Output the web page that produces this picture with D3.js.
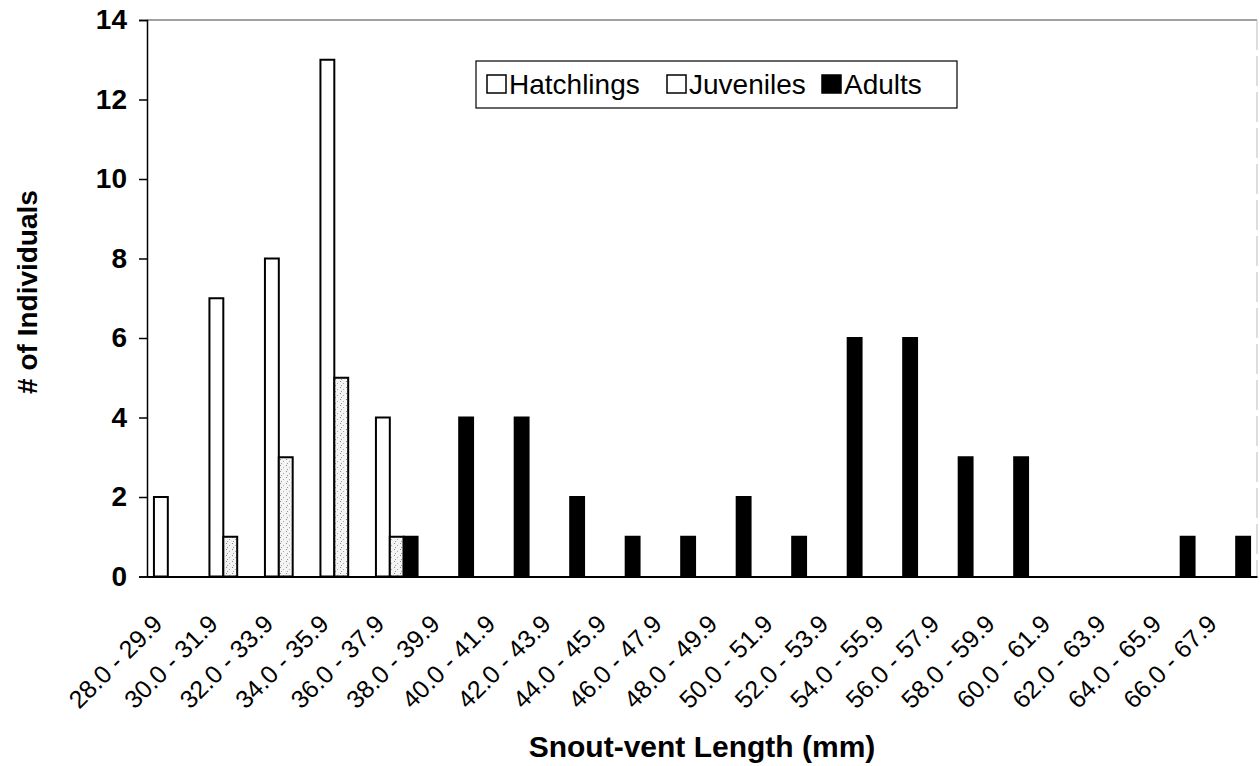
<!DOCTYPE html>
<html>
<head>
<meta charset="utf-8">
<script src="https://cdn.jsdelivr.net/npm/d3@7"></script>
<style>
  html, body { margin: 0; padding: 0; background: #fff; }
  svg { display: block; font-family: Arial, "Liberation Sans", Helvetica, sans-serif; }
</style>
</head>
<body>
<svg id="chart" width="1260" height="766"></svg>
<script>
// Snout-vent length classes (mm)
const categories = [
  "28.0 - 29.9", "30.0 - 31.9", "32.0 - 33.9", "34.0 - 35.9", "36.0 - 37.9",
  "38.0 - 39.9", "40.0 - 41.9", "42.0 - 43.9", "44.0 - 45.9", "46.0 - 47.9",
  "48.0 - 49.9", "50.0 - 51.9", "52.0 - 53.9", "54.0 - 55.9", "56.0 - 57.9",
  "58.0 - 59.9", "60.0 - 61.9", "62.0 - 63.9", "64.0 - 65.9", "66.0 - 67.9"
];
const seriesNames = ["Hatchlings", "Juveniles", "Adults"];
const hatchlings = [2, 7, 8, 13, 4, 0, 0, 0, 0, 0, 0, 0, 0, 0, 0, 0, 0, 0, 0, 0];
const juveniles  = [0, 1, 3, 5, 1, 0, 0, 0, 0, 0, 0, 0, 0, 0, 0, 0, 0, 0, 0, 0];
const adults     = [0, 0, 0, 0, 1, 4, 4, 2, 1, 1, 2, 1, 6, 6, 3, 3, 0, 0, 1, 1];
const yTicks = [0, 2, 4, 6, 8, 10, 12, 14];

const seriesValues = [hatchlings, juveniles, adults];

const svg = d3.select("#chart");
const margin = { left: 147, right: 3, top: 20, bottom: 189.5 };
const W = 1260, H = 766;
const plotW = W - margin.left - margin.right;
const plotH = H - margin.top - margin.bottom;

// Stippled light fill for the juvenile bars
const defs = svg.append("defs");
const pat = defs.append("pattern")
  .attr("id", "stipple").attr("patternUnits", "userSpaceOnUse")
  .attr("width", 6).attr("height", 6);
pat.append("rect").attr("width", 6).attr("height", 6).attr("fill", "#f4f4f4");
pat.append("rect").attr("x", 1).attr("y", 1).attr("width", 1).attr("height", 1).attr("fill", "#888");
pat.append("rect").attr("x", 4).attr("y", 3).attr("width", 1).attr("height", 1).attr("fill", "#aaa");
pat.append("rect").attr("x", 2).attr("y", 5).attr("width", 1).attr("height", 1).attr("fill", "#999");

const fills = ["#ffffff", "url(#stipple)", "#000000"];

const g = svg.append("g").attr("transform", `translate(${margin.left},${margin.top})`);

const x = d3.scaleBand().domain(categories).range([0, plotW]).paddingInner(0).paddingOuter(0);
const xSub = d3.scaleBand().domain(seriesNames)
  .range([x.bandwidth() * 0.125, x.bandwidth() * 0.875]).padding(0);
const y = d3.scaleLinear().domain([0, 14]).range([plotH, 0]);

// plot-area border (top and faint right side)
g.append("line").attr("x1", 0).attr("x2", plotW).attr("y1", 0).attr("y2", 0)
  .attr("stroke", "#444").attr("stroke-width", 1.2);
g.append("line").attr("x1", plotW).attr("x2", plotW).attr("y1", 0).attr("y2", plotH)
  .attr("stroke", "#bbb").attr("stroke-width", 1).attr("stroke-dasharray", "30,6");

// bars
seriesNames.forEach((name, si) => {
  g.append("g").selectAll("rect")
    .data(categories.map((c, i) => ({ c, v: seriesValues[si][i] })).filter(d => d.v > 0))
    .join("rect")
    .attr("x", d => x(d.c) + xSub(name))
    .attr("y", d => y(d.v))
    .attr("width", xSub.bandwidth())
    .attr("height", d => y(0) - y(d.v))
    .attr("fill", fills[si])
    .attr("stroke", "#000")
    .attr("stroke-width", 2);
});

// y axis
const yAxis = g.append("g")
  .call(d3.axisLeft(y).tickValues(yTicks).tickSize(8).tickPadding(12).tickFormat(d3.format("d")));
yAxis.select(".domain").attr("stroke", "#000").attr("stroke-width", 1.5);
yAxis.selectAll(".tick line").attr("stroke", "#000").attr("stroke-width", 1.5);
yAxis.selectAll("text").attr("font-size", 28).attr("font-weight", "bold").attr("fill", "#000")
  .attr("font-family", "Arial, 'Liberation Sans', sans-serif");

// x axis with labels slanted at 45 degrees
const xAxis = g.append("g").attr("transform", `translate(0,${plotH})`)
  .call(d3.axisBottom(x).tickSize(0).tickPadding(0));
xAxis.select(".domain").attr("stroke", "#000").attr("stroke-width", 2);
xAxis.selectAll(".tick text")
  .attr("font-size", 25).attr("fill", "#000")
  .attr("font-family", "Arial, 'Liberation Sans', sans-serif")
  .attr("text-anchor", "end")
  .attr("y", 0).attr("dy", 0)
  .attr("transform", "translate(-11,49) rotate(-45)");

// axis titles
svg.append("text")
  .attr("x", margin.left + plotW / 2).attr("y", 757)
  .attr("text-anchor", "middle")
  .attr("font-size", 30).attr("font-weight", "bold")
  .text("Snout-vent Length (mm)");
svg.append("text")
  .attr("transform", "translate(37,292) rotate(-90)")
  .attr("text-anchor", "middle")
  .attr("font-size", 28).attr("font-weight", "bold")
  .text("# of Individuals");

// legend
const legend = svg.append("g").attr("transform", "translate(476,61)");
legend.append("rect").attr("width", 481).attr("height", 47)
  .attr("fill", "#fff").attr("stroke", "#000").attr("stroke-width", 1.2);
const legendFills = ["#ffffff", "#ffffff", "#000000"];
const legendX = [11, 191, 346];
seriesNames.forEach((name, i) => {
  const lg = legend.append("g").attr("transform", `translate(${legendX[i]},0)`);
  lg.append("rect").attr("x", 0).attr("y", 14).attr("width", 19).attr("height", 18)
    .attr("fill", legendFills[i]).attr("stroke", "#000").attr("stroke-width", 1.5);
  lg.append("text").attr("x", 22).attr("y", 33)
    .attr("font-size", 28).attr("fill", "#000").text(name);
});
</script>
</body>
</html>
